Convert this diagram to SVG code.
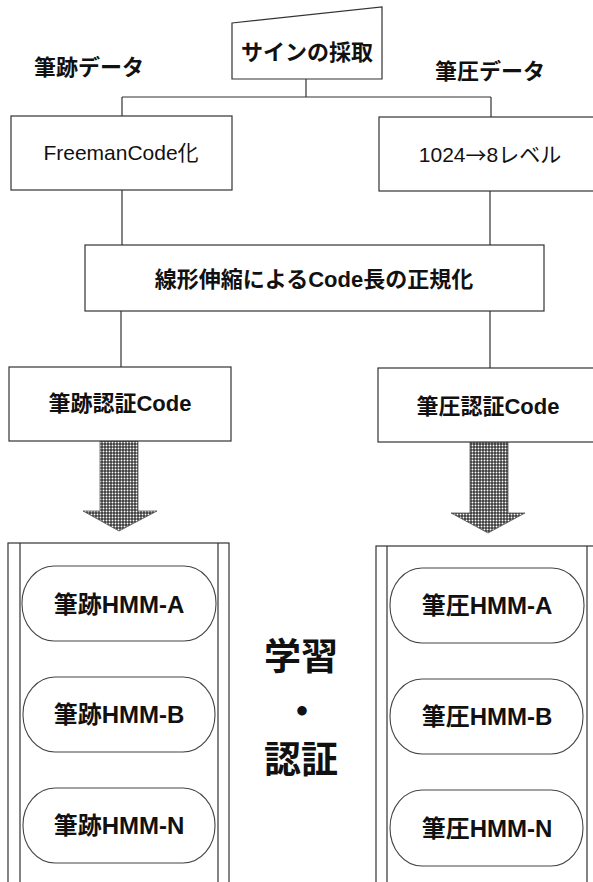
<svg xmlns="http://www.w3.org/2000/svg" width="593" height="882" viewBox="0 0 593 882">
<style>
  .box { fill: #fff; stroke: #333; stroke-width: 1.2; }
  .line { fill: none; stroke: #333; stroke-width: 1.2; }
  .pill { fill: #fff; stroke: #444; stroke-width: 1.1; }
  text { font-family: "Liberation Sans", "Noto Sans CJK JP", sans-serif; fill: #111; text-anchor: middle; dominant-baseline: central; }
  .cjk { font-family: "Noto Sans CJK JP", sans-serif; }
  .b { font-weight: bold; }
  .t22 { font-size: 22px; }
  .t21 { font-size: 21px; }
  .hmm { font-size: 24px; font-weight: bold; }
  .big { font-size: 37px; font-weight: bold; }
  .arrow { fill: url(#dots); stroke: #555; stroke-width: 0.8; }
</style>
<defs>
  <pattern id="dots" patternUnits="userSpaceOnUse" width="3" height="3">
    <rect width="3" height="3" fill="#3a3a3a"/>
    <circle cx="1.5" cy="1.5" r="0.95" fill="#fff"/>
  </pattern>
</defs>
<rect width="593" height="882" fill="#fff"/>

<g id="connectors">
  <path class="line" d="M306,79 V97 M122,97 H491 M122,97 V116 M491,97 V117"/>
  <path class="line" d="M122,190 V245 M490,191 V245"/>
  <path class="line" d="M121,311 V367 M490,311 V368"/>
  <polygon class="arrow" points="100,441 138,441 138,511 157,511 119,531 83,511 100,511"/>
  <polygon class="arrow" points="470,442 508,442 508,513 525,513 488,533 451,513 470,513"/>
</g>

<g id="label-hisseki">
  <text class="t22 b" x="89" y="67">筆跡データ</text>
</g>
<g id="label-hitsuatsu">
  <text class="t22 b" x="490" y="71">筆圧データ</text>
</g>

<g id="sign">
  <polygon class="box" points="232,23 382,7 382,79 232,79"/>
  <text class="t22 b" x="307" y="52">サインの採取</text>
</g>

<g id="freeman">
  <rect class="box" x="11" y="116" width="221" height="74"/>
  <text class="t21" x="121" y="152">FreemanCode化</text>
</g>

<g id="level">
  <rect class="box" x="379" y="117" width="222" height="74"/>
  <text class="t21" x="490" y="154">1024<tspan class="cjk">→</tspan>8レベル</text>
</g>

<g id="normalize">
  <rect class="box" x="85" y="245" width="459" height="66"/>
  <text class="t22 b" x="314" y="279">線形伸縮によるCode長の正規化</text>
</g>

<g id="hisseki-code">
  <rect class="box" x="9" y="367" width="222" height="74"/>
  <text class="t22 b" x="120" y="403">筆跡認証Code</text>
</g>

<g id="hitsuatsu-code">
  <rect class="box" x="378" y="368" width="222" height="74"/>
  <text class="t22 b" x="488" y="406">筆圧認証Code</text>
</g>

<g id="panel-left">
  <rect class="box" x="8" y="543" width="221" height="360"/>
  <path class="line" d="M20,543 V882 M218,543 V882"/>
</g>
<g id="panel-right">
  <rect class="box" x="376" y="546" width="222" height="360"/>
  <path class="line" d="M387,546 V882 M587,546 V882"/>
</g>

<g id="hmm-hisseki-a">
  <rect class="pill" x="22" y="566" width="194" height="75" rx="32" ry="37"/>
  <text class="hmm" x="119" y="604">筆跡HMM-A</text>
</g>
<g id="hmm-hisseki-b">
  <rect class="pill" x="23" y="677" width="192" height="75" rx="32" ry="37"/>
  <text class="hmm" x="119" y="714">筆跡HMM-B</text>
</g>
<g id="hmm-hisseki-n">
  <rect class="pill" x="23" y="788" width="192" height="75" rx="32" ry="37"/>
  <text class="hmm" x="119" y="825">筆跡HMM-N</text>
</g>

<g id="hmm-hitsuatsu-a">
  <rect class="pill" x="390" y="568" width="194" height="75" rx="32" ry="37"/>
  <text class="hmm" x="487" y="605">筆圧HMM-A</text>
</g>
<g id="hmm-hitsuatsu-b">
  <rect class="pill" x="390" y="679" width="193" height="75" rx="32" ry="37"/>
  <text class="hmm" x="487" y="716">筆圧HMM-B</text>
</g>
<g id="hmm-hitsuatsu-n">
  <rect class="pill" x="390" y="790" width="193" height="76" rx="32" ry="38"/>
  <text class="hmm" x="487" y="828">筆圧HMM-N</text>
</g>

<g id="learn-auth">
  <text class="big" x="301" y="657">学習</text>
  <text class="big" x="302" y="712">・</text>
  <text class="big" x="301" y="760">認証</text>
</g>
</svg>
